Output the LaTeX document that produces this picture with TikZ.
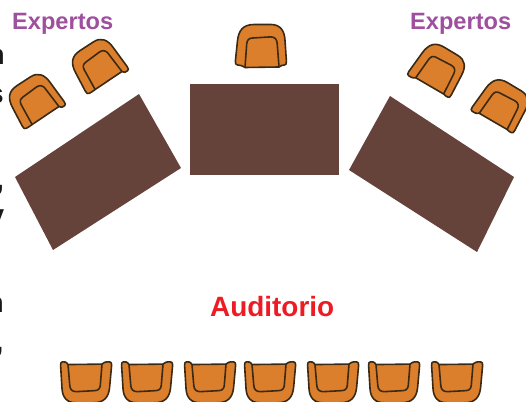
\documentclass[tikz,border=0pt]{standalone}
\usepackage{fontspec}
\setmainfont{Liberation Sans}
\definecolor{chairfill}{HTML}{DC7F2C}
\definecolor{chairline}{HTML}{3A2A14}
\definecolor{tablefill}{HTML}{65433A}
\definecolor{expertcol}{HTML}{9E4F9E}
\definecolor{audcol}{HTML}{ED1C24}
\tikzset{
  chairpen/.style={draw=chairline,line width=1.6pt,line join=round,line cap=round},
  expertlabel/.style={text=expertcol,font=\fontsize{23.6}{26}\selectfont\bfseries,inner sep=0pt,anchor=base west},
  audlabel/.style={text=audcol,font=\fontsize{27.9}{30}\selectfont\bfseries,inner sep=0pt,anchor=base west},
  edgeglyph/.style={text=black!90,font=\fontsize{28}{30}\selectfont\bfseries,inner sep=0pt,anchor=base east},
  pics/chair/.style 2 args={code={
    \path[chairpen,fill=chairfill]
      (-16,21) .. controls (-19,{#1+0.5}) and (-21.5,#1) .. (-23.5,#1)
      .. controls (-25.2,#1) and (-25.8,{#1-1.5}) .. (-25.6,{#1-4})
      -- (-23.6,-5) .. controls (-22.6,-16) and (-18,-22) .. (-7,-22)
      -- (10,-22) .. controls (19,-22) and (23.6,-16) .. (24,-6)
      -- (25.4,{#2-4}) .. controls (25.6,{#2-1.5}) and (25,#2) .. (23.5,#2)
      .. controls (21.5,#2) and (20,{#2+0.5}) .. (18,20.5) -- cycle;
    \path[chairpen]
      (-16,21) -- (-14.3,-2.5) .. controls (-14,-6.5) and (-12,-8.4) .. (-8.5,-8.5)
      -- (9.5,-9.6) .. controls (13.5,-9.7) and (15.9,-7.5) .. (16.2,-3) -- (18,20.5);
  }}
}
\begin{document}
\begin{tikzpicture}[x=1pt,y=-1pt]
\useasboundingbox (0,0) rectangle (526,401);
\fill[tablefill] (190,84) -- (339,84) -- (339,175) -- (190,175) -- cycle;
\fill[tablefill] (139,94) -- (181,168) -- (53,250) -- (15,177) -- cycle;
\fill[tablefill] (390,96) -- (514,177) -- (477,252) -- (349,170) -- cycle;
\pic[rotate=0] at (261,46.5) {chair={18.5}{18.5}};
\pic[rotate=33,scale=.95] at (34,99.5) {chair={21}{23}};
\pic[rotate=33,scale=.95] at (97,64.5) {chair={21}{23}};
\pic[rotate=-31,scale=.95] at (439,68.5) {chair={23}{21}};
\pic[rotate=-31,scale=.95] at (502.5,104) {chair={23}{21}};
\foreach \cx in {86,147,210,270,333,394,457}{
  \pic[rotate=180,yscale=.9] at (\cx,383) {chair={23.5}{23.5}};
}
\node[expertlabel] (expL) at (12,30) {Expertos};
\node[expertlabel] (expR) at (410,30) {Expertos};
\node[audlabel] (aud) at (210,316) {Auditorio};
\node[edgeglyph] (g1) at (5,65) {n};
\node[edgeglyph] (g2) at (4,103) {s};
\node[edgeglyph] (g3) at (4.2,189) {,};
\node[edgeglyph] (g4) at (4.3,224) {y};
\node[edgeglyph] (g5) at (4,312) {n};
\node[edgeglyph] (g6) at (3.7,351) {,};
\end{tikzpicture}
\end{document}
